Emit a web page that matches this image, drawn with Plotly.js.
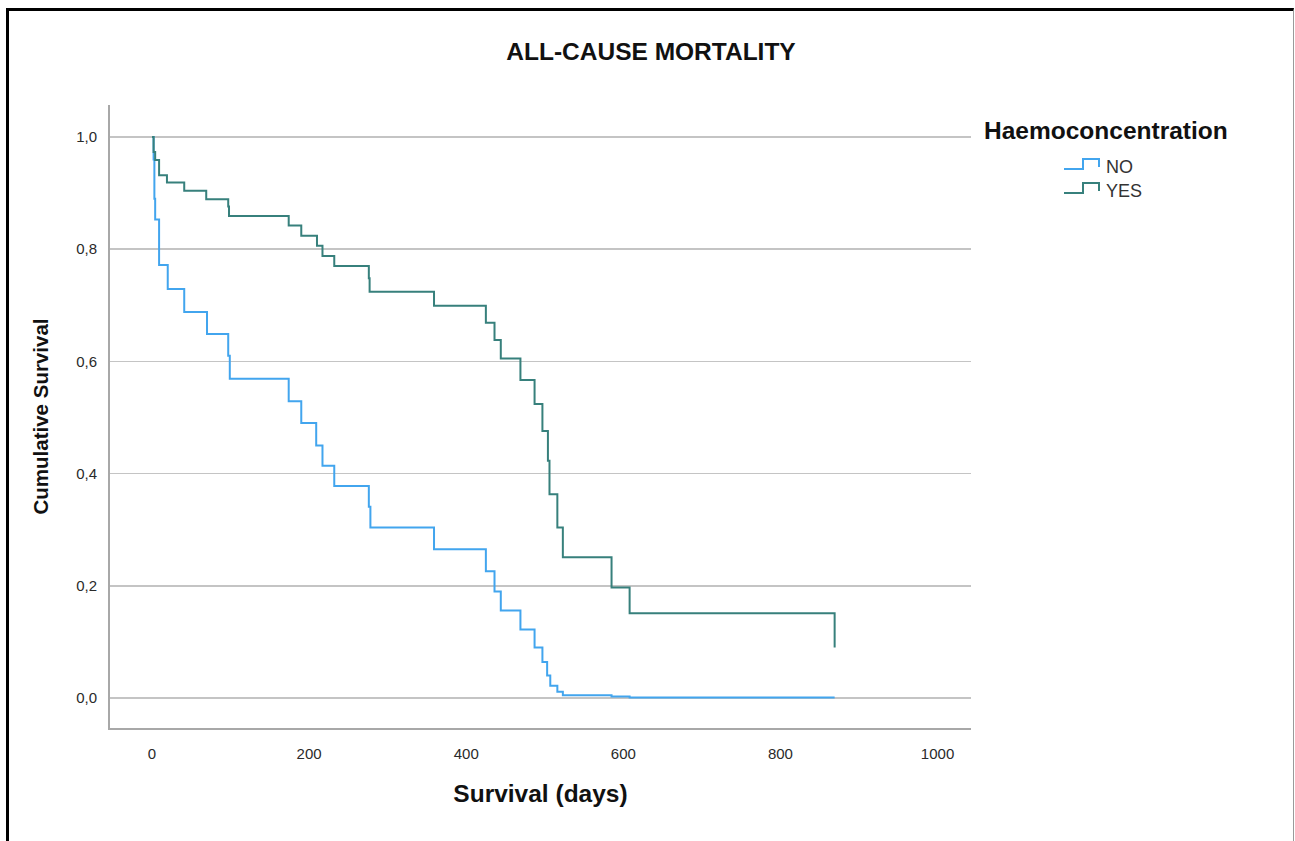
<!DOCTYPE html>
<html>
<head>
<meta charset="utf-8">
<script src="https://cdn.plot.ly/plotly-3.0.1.min.js"></script>
<style>
  html, body { margin: 0; padding: 0; background: #ffffff; }
  #wrap { position: relative; width: 1295px; height: 841px; overflow: hidden; }
  #chart { position: absolute; left: 0; top: 0; width: 1295px; height: 841px; }
  #frame { position: absolute; left: 6px; top: 8px; width: 1284px; height: 900px;
           border-top: 3px solid #000; border-left: 3px solid #000; border-right: 1px solid #9a9a9a;
           pointer-events: none; z-index: 5; }
</style>
</head>
<body>
<div id="wrap">
  <div id="chart"></div>
  <div id="frame"></div>
</div>
<script>
// ---- Data ----
const groupNames = ["NO", "YES"];

const noDays = [0, 2, 3, 4, 9, 20, 41, 70, 97, 99, 174, 190, 209, 217, 232, 276, 278, 359, 425, 436, 444, 469, 487, 497, 503, 507, 516, 523, 585, 608, 869];
const noSurv = [1.0, 0.96, 0.89, 0.853, 0.772, 0.729, 0.688, 0.649, 0.610, 0.569, 0.529, 0.490, 0.450, 0.414, 0.378, 0.341, 0.304, 0.265, 0.226, 0.190, 0.156, 0.122, 0.090, 0.064, 0.040, 0.022, 0.011, 0.005, 0.0025, 0.0008, 0.0008];

const yesDays = [0, 2, 4, 9, 19, 41, 69, 97, 98, 174, 190, 210, 217, 232, 276, 277, 359, 425, 436, 444, 469, 487, 497, 504, 506, 516, 523, 585, 608, 869];
const yesSurv = [1.0, 0.973, 0.959, 0.932, 0.919, 0.904, 0.889, 0.876, 0.859, 0.842, 0.824, 0.806, 0.788, 0.770, 0.748, 0.724, 0.699, 0.669, 0.638, 0.605, 0.567, 0.524, 0.476, 0.423, 0.363, 0.304, 0.251, 0.197, 0.151, 0.090];

const xTickVals = [0, 200, 400, 600, 800, 1000];
const yTickVals = [0, 0.2, 0.4, 0.6, 0.8, 1.0];

// ---- Styling ----
const colNo = "#42a5ee";
const colYes = "#37807c";

const W = 1295, H = 841;
const M = { l: 110, r: 1295 - 971, t: 105, b: 841 - 728 };
const pw = W - M.l - M.r, ph = H - M.t - M.b;
const px = x => (x - M.l) / pw;
const py = y => (H - M.b - y) / ph;

function stepGlyph(x0, x1, x2, yLow, yHigh) {
  return "M" + px(x0) + "," + py(yLow) + " L" + px(x1) + "," + py(yLow) +
         " L" + px(x1) + "," + py(yHigh) + " L" + px(x2) + "," + py(yHigh) +
         " L" + px(x2) + "," + py(yLow - 2);
}

const traces = [
  { x: noDays, y: noSurv, name: groupNames[0], type: "scatter", mode: "lines",
    line: { shape: "hv", color: colNo, width: 2 }, showlegend: false },
  { x: yesDays, y: yesSurv, name: groupNames[1], type: "scatter", mode: "lines",
    line: { shape: "hv", color: colYes, width: 2 }, showlegend: false }
];

const layout = {
  width: W, height: H,
  margin: M,
  paper_bgcolor: "#ffffff",
  plot_bgcolor: "#ffffff",
  separators: ",.",
  font: { family: "Liberation Sans, Arial, sans-serif", color: "#333333" },
  title: { text: "ALL-CAUSE MORTALITY", x: 651 / W, xref: "container", xanchor: "center",
           y: 1 - 51 / H, yref: "container", yanchor: "middle",
           font: { size: 24.5, color: "#111111", family: "Liberation Sans, Arial, sans-serif", weight: "bold" } },
  xaxis: {
    range: [-53.5, 1042.6], tickvals: xTickVals, ticktext: xTickVals.map(String),
    showgrid: false, zeroline: false, showline: true, linecolor: "#a8a8a8", linewidth: 2,
    ticks: "outside", ticklen: 11, tickcolor: "rgba(0,0,0,0)",
    tickfont: { size: 15, color: "#2a2a2a" },
    title: { text: "Survival (days)", standoff: 24,
             font: { size: 24.5, color: "#111111", weight: "bold" } }
  },
  yaxis: {
    range: [-0.0535, 1.057], tickvals: yTickVals, tickformat: ".1f",
    showgrid: true, gridcolor: "#c4c4c4", gridwidth: 1.5,
    zeroline: false, showline: true, linecolor: "#a8a8a8", linewidth: 2,
    ticks: "outside", ticklen: 8, tickcolor: "rgba(0,0,0,0)",
    tickfont: { size: 15, color: "#2a2a2a" },
    title: { text: "Cumulative Survival", standoff: 22,
             font: { size: 20.5, color: "#111111", weight: "bold" } }
  },
  shapes: [
    { type: "path", xref: "paper", yref: "paper", path: stepGlyph(1064, 1083, 1099, 169, 159),
      line: { color: colNo, width: 2 } },
    { type: "path", xref: "paper", yref: "paper", path: stepGlyph(1064, 1083, 1099, 193, 183),
      line: { color: colYes, width: 2 } }
  ],
  annotations: [
    { text: "<b>Haemoconcentration</b>", xref: "paper", yref: "paper", x: px(982), y: py(130),
      xanchor: "left", yanchor: "middle", showarrow: false,
      font: { size: 24.5, color: "#111111" } },
    { text: groupNames[0], xref: "paper", yref: "paper", x: px(1104), y: py(167),
      xanchor: "left", yanchor: "middle", showarrow: false, font: { size: 18, color: "#333333" } },
    { text: groupNames[1], xref: "paper", yref: "paper", x: px(1104), y: py(191),
      xanchor: "left", yanchor: "middle", showarrow: false, font: { size: 18, color: "#333333" } }
  ]
};

Plotly.newPlot("chart", traces, layout, { displayModeBar: false, staticPlot: true });
</script>
</body>
</html>
